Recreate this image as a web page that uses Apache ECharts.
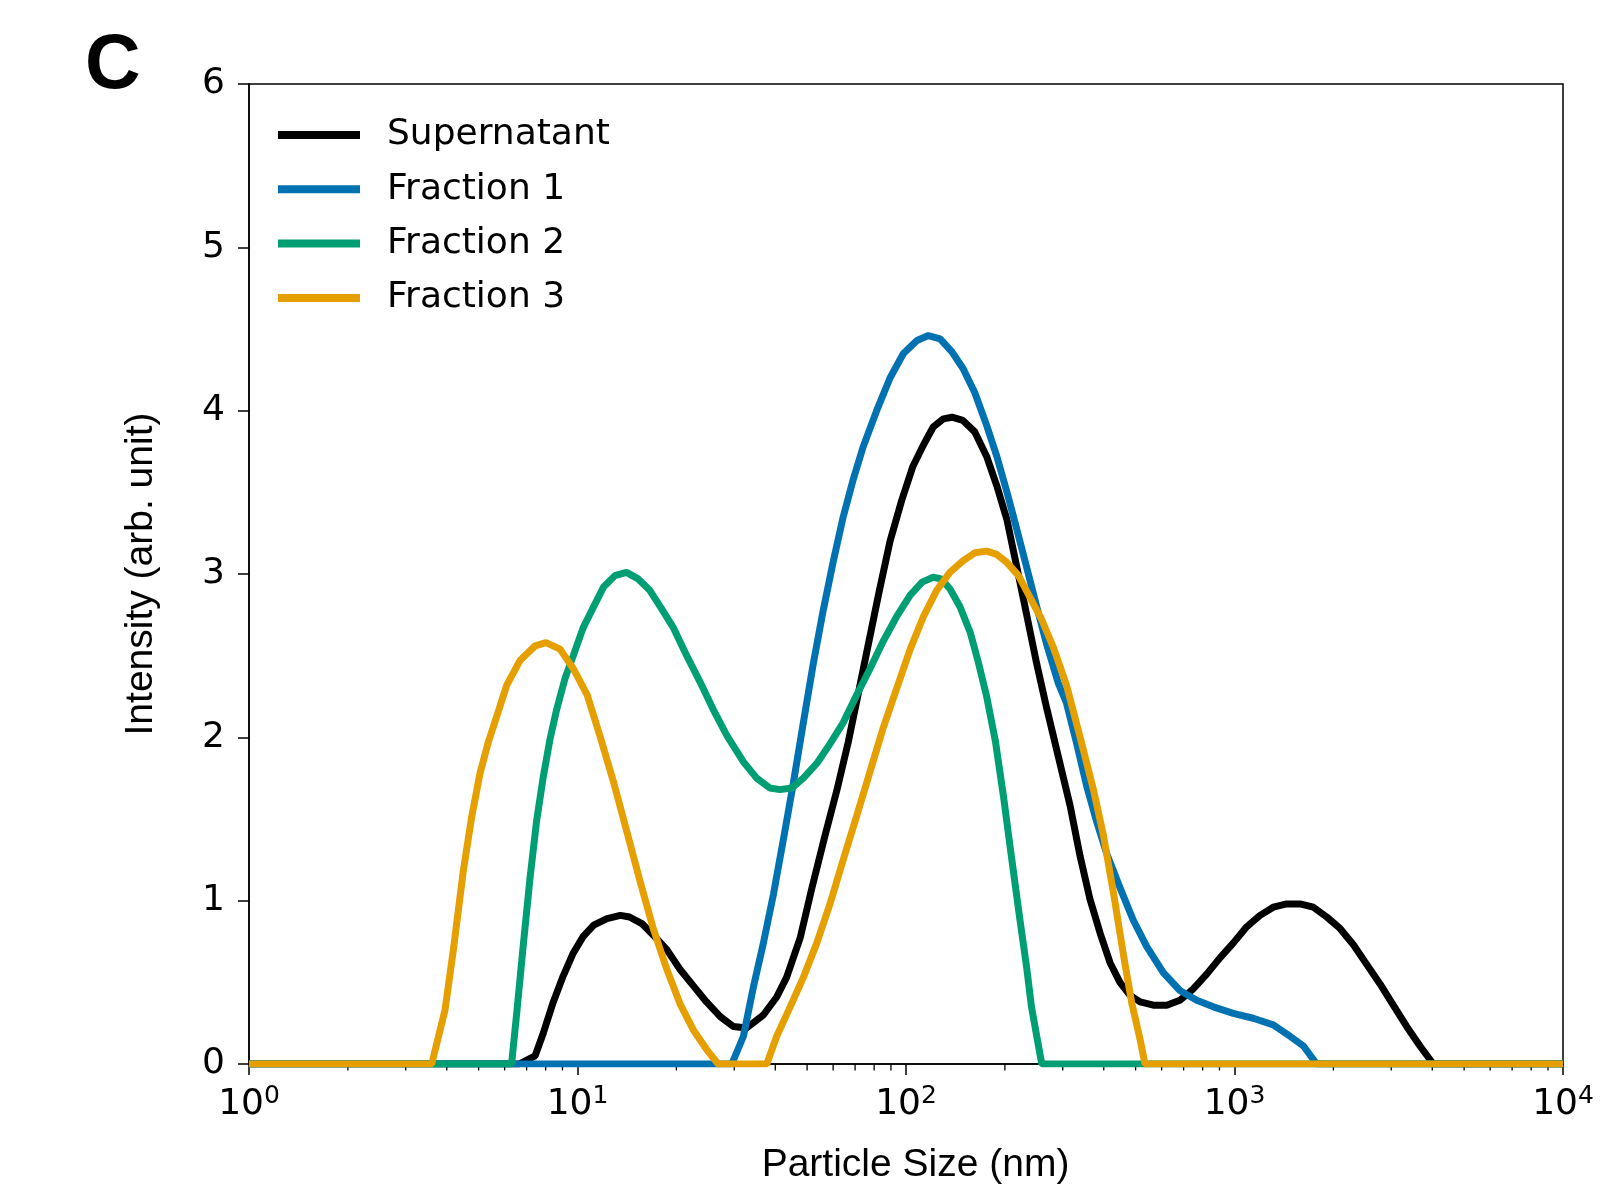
<!DOCTYPE html>
<html>
<head>
<meta charset="utf-8">
<script src="https://cdn.jsdelivr.net/npm/echarts@6/dist/echarts.min.js"></script>
<style>
html, body { margin: 0; padding: 0; background: #fff; }
#chart { width: 1604px; height: 1192px; }
</style>
</head>
<body>
<div id="chart"></div>
<script>
// particle size (nm) and intensity
const supSize = [1, 6.64, 7.43, 7.87, 8.44, 9.05, 9.71, 10.4, 11.2, 12.3, 13.5, 14.4, 15.7, 17.0, 18.7, 20.5, 22.5, 24.7, 27.2, 29.8, 32.7, 36.8, 40.4, 43.3, 47.6, 51.6, 56.7, 61.5, 66.7, 71.6, 76.8, 82.4, 89.4, 97.0, 105, 113, 121, 130, 138, 149, 162, 176, 189, 203, 217, 233, 250, 268, 291, 316, 339, 363, 390, 418, 448, 481, 516, 566, 622, 682, 749, 823, 903, 991, 1089, 1196, 1312, 1442, 1583, 1738, 1909, 2095, 2301, 2526, 2773, 3043, 3342, 3669, 4028, 10000]
const supVal = [0, 0, 0.05, 0.19, 0.38, 0.54, 0.68, 0.78, 0.85, 0.89, 0.91, 0.90, 0.86, 0.79, 0.70, 0.58, 0.48, 0.38, 0.29, 0.23, 0.22, 0.30, 0.41, 0.53, 0.77, 1.07, 1.40, 1.67, 1.97, 2.27, 2.57, 2.87, 3.20, 3.45, 3.66, 3.79, 3.90, 3.95, 3.96, 3.94, 3.87, 3.72, 3.54, 3.33, 3.05, 2.75, 2.45, 2.18, 1.88, 1.58, 1.27, 1.01, 0.80, 0.62, 0.50, 0.42, 0.38, 0.36, 0.36, 0.39, 0.46, 0.55, 0.65, 0.74, 0.84, 0.91, 0.96, 0.98, 0.98, 0.96, 0.90, 0.83, 0.73, 0.61, 0.49, 0.36, 0.23, 0.11, 0, 0]

const f1Size = [1, 29.5, 32.0, 34.3, 36.8, 39.5, 42.3, 45.4, 48.7, 52.2, 56.0, 60.1, 64.4, 69.1, 74.1, 81.4, 89.4, 98.2, 108, 117, 127, 138, 149, 162, 176, 189, 203, 217, 233, 250, 268, 291, 308, 331, 355, 381, 408, 448, 492, 540, 607, 682, 767, 862, 991, 1140, 1312, 1475, 1621, 1779, 10000]
const f1Val = [0, 0, 0.17, 0.47, 0.74, 1.04, 1.37, 1.72, 2.09, 2.45, 2.78, 3.08, 3.35, 3.58, 3.78, 4.00, 4.20, 4.35, 4.43, 4.46, 4.44, 4.36, 4.26, 4.11, 3.91, 3.72, 3.50, 3.28, 3.04, 2.80, 2.57, 2.33, 2.21, 1.96, 1.70, 1.48, 1.29, 1.08, 0.88, 0.72, 0.56, 0.45, 0.39, 0.35, 0.31, 0.28, 0.24, 0.17, 0.11, 0, 0]

const f2Size = [1, 6.30, 6.53, 6.84, 7.17, 7.51, 7.87, 8.25, 8.64, 9.16, 9.71, 10.4, 11.2, 12.0, 13.0, 14.1, 15.3, 16.6, 18.0, 19.6, 21.5, 23.6, 25.9, 28.5, 32.0, 35.1, 38.5, 41.3, 44.9, 48.7, 53.5, 58.7, 64.4, 70.8, 77.7, 85.3, 93.7, 103, 112, 121, 128, 136, 146, 157, 166, 176, 187, 198, 210, 222, 233, 241, 250, 259, 10000]
const f2Val = [0, 0, 0.31, 0.73, 1.14, 1.49, 1.76, 1.99, 2.17, 2.36, 2.50, 2.67, 2.80, 2.92, 2.99, 3.01, 2.97, 2.90, 2.79, 2.67, 2.50, 2.34, 2.17, 2.01, 1.85, 1.75, 1.69, 1.68, 1.69, 1.75, 1.84, 1.96, 2.09, 2.26, 2.42, 2.59, 2.74, 2.87, 2.95, 2.98, 2.97, 2.91, 2.80, 2.64, 2.46, 2.25, 1.98, 1.64, 1.25, 0.89, 0.59, 0.35, 0.17, 0, 0]

const f3Size = [1, 3.60, 3.95, 4.19, 4.49, 4.76, 5.05, 5.35, 5.68, 6.09, 6.68, 7.43, 8.02, 8.85, 9.71, 10.7, 11.7, 12.9, 14.1, 15.5, 17.0, 18.7, 20.5, 22.5, 24.7, 26.8, 37.7, 40.4, 44.4, 48.7, 53.5, 58.7, 64.4, 70.8, 77.7, 85.3, 93.7, 103, 113, 124, 136, 149, 162, 176, 189, 203, 220, 238, 259, 281, 308, 339, 372, 399, 428, 459, 487, 516, 534, 10000]
const f3Val = [0, 0, 0.33, 0.70, 1.18, 1.51, 1.78, 1.97, 2.13, 2.32, 2.47, 2.56, 2.58, 2.54, 2.42, 2.26, 2.01, 1.72, 1.43, 1.12, 0.83, 0.58, 0.37, 0.21, 0.09, 0, 0, 0.17, 0.35, 0.53, 0.74, 0.98, 1.25, 1.52, 1.79, 2.06, 2.30, 2.54, 2.74, 2.90, 3.01, 3.08, 3.13, 3.14, 3.12, 3.07, 2.99, 2.86, 2.72, 2.55, 2.32, 2.00, 1.68, 1.40, 1.05, 0.67, 0.37, 0.15, 0, 0]

const seriesNames = ['Supernatant', 'Fraction 1', 'Fraction 2', 'Fraction 3']
const seriesColors = ['#000000', '#0072B2', '#009E73', '#E69F00']
const yTicks = [0, 1, 2, 3, 4, 5, 6]
const minorTicks = [2, 3, 4, 5, 6, 7, 8, 9, 20, 30, 40, 50, 60, 70, 80, 90, 200, 300, 400, 500, 600, 700, 800, 900, 2000, 3000, 4000, 5000, 6000, 7000, 8000, 9000]

const pairs = (xs, ys) => xs.map((x, i) => [x, ys[i]])
const allData = [pairs(supSize, supVal), pairs(f1Size, f1Val), pairs(f2Size, f2Val), pairs(f3Size, f3Val)]

const myChart = echarts.init(document.getElementById('chart'))

const lineSeries = seriesNames.map((name, i) => ({
  name,
  type: 'line',
  data: allData[i],
  showSymbol: false,
  color: seriesColors[i],
  lineStyle: { width: 7, color: seriesColors[i] },
  z: 3
}))

myChart.setOption({
  animation: false,
  backgroundColor: '#fff',
  title: {
    text: 'C',
    left: 80,
    top: 23,
    textStyle: { fontFamily: 'Liberation Sans', fontWeight: 'bold', fontSize: 77, color: '#000' }
  },
  legend: {
    data: seriesNames,
    orient: 'vertical',
    left: 273,
    top: 110,
    icon: 'rect',
    itemWidth: 82,
    itemHeight: 8,
    itemGap: 14.3,
    textStyle: { fontFamily: 'DejaVu Sans', fontSize: 36, color: '#000', lineHeight: 40, padding: [0, 0, 0, 22] }
  },
  grid: {
    left: 249, right: 41, top: 84, bottom: 128,
    show: true, borderColor: '#000', borderWidth: 1.5
  },
  xAxis: {
    type: 'log',
    logBase: 10,
    min: 1,
    max: 10000,
    splitNumber: 4,
    name: 'Particle Size (nm)',
    nameLocation: 'middle',
    nameGap: 82,
    nameTextStyle: { fontFamily: 'Liberation Sans', fontSize: 39, color: '#000', padding: [0, 0, 0, 19] },
    axisLine: { lineStyle: { color: '#000', width: 1.5 } },
    axisTick: { inside: false, length: 11, lineStyle: { color: '#000', width: 1.5 } },
    splitLine: { show: false },
    axisLabel: {
      margin: 20,
      color: '#000',
      fontFamily: 'DejaVu Sans',
      fontSize: 36,
      formatter: (v) => '10{sup|' + Math.round(Math.log10(v)) + '}',
      rich: {
        sup: { fontFamily: 'DejaVu Sans', fontSize: 25, verticalAlign: 'top', padding: [0, 0, 17, 0], color: '#000' }
      }
    }
  },
  yAxis: {
    type: 'value',
    min: yTicks[0],
    max: yTicks[yTicks.length - 1],
    interval: 1,
    name: 'Intensity (arb. unit)',
    nameLocation: 'middle',
    nameRotate: 90,
    nameGap: 88,
    nameTextStyle: { fontFamily: 'Liberation Sans', fontSize: 39, color: '#000' },
    axisLine: { show: true, lineStyle: { color: '#000', width: 1.5 } },
    axisTick: { show: true, inside: false, length: 11, lineStyle: { color: '#000', width: 1.5 } },
    splitLine: { show: false },
    axisLabel: { margin: 24, color: '#000', fontFamily: 'DejaVu Sans', fontSize: 36, padding: [8, 0, 0, 0] }
  },
  series: [
    ...lineSeries,
    {
      type: 'custom',
      name: 'minor',
      silent: true,
      clip: false,
      z: 1,
      data: minorTicks.map(v => [v, 0]),
      renderItem: (params, api) => {
        const p = api.coord([api.value(0), 0])
        return {
          type: 'line',
          shape: { x1: p[0], y1: p[1], x2: p[0], y2: p[1] + 6.5 },
          style: { stroke: '#000', lineWidth: 1.3 }
        }
      }
    }
  ]
})
</script>
</body>
</html>
